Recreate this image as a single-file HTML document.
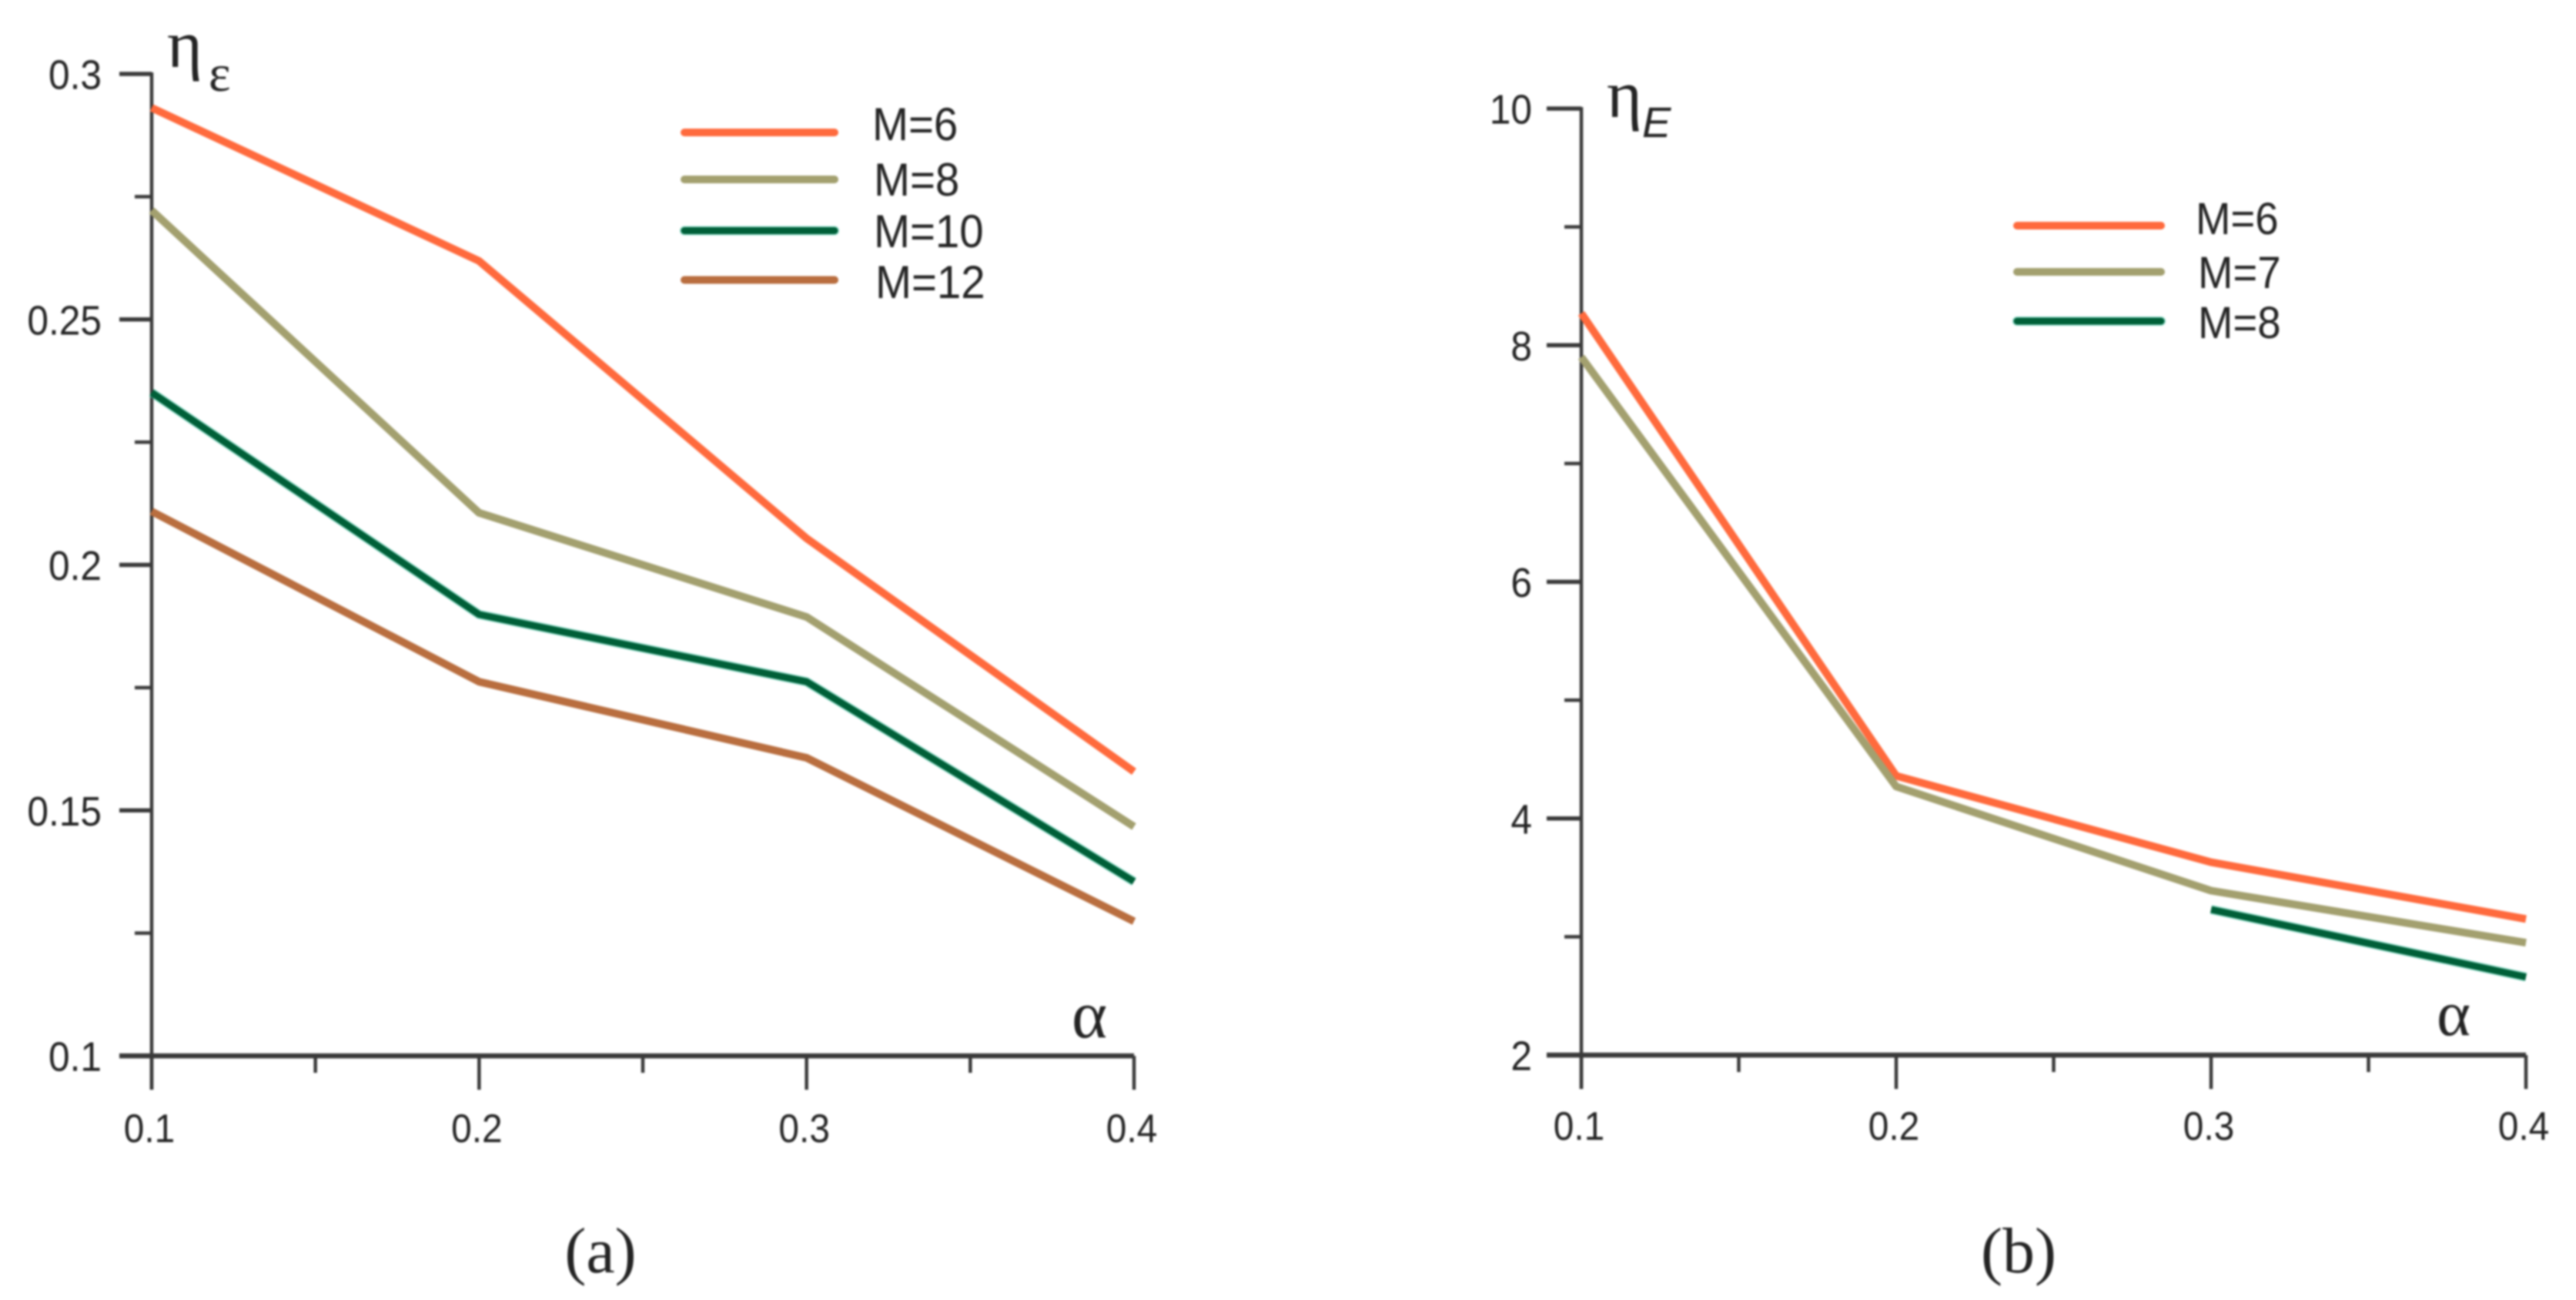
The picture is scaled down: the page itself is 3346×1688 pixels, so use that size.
<!DOCTYPE html>
<html lang="en">
<head>
<meta charset="utf-8">
<title>Efficiency charts</title>
<style>
html,body{margin:0;padding:0;background:#fff;width:3346px;height:1688px;overflow:hidden}
svg{display:block;filter:blur(1.2px)}
text{fill:#242424}
.sans{font-family:"Liberation Sans",sans-serif}
.serif{font-family:"Liberation Serif",serif}
</style>
</head>
<body>
<svg id="figure" xmlns="http://www.w3.org/2000/svg" width="3346" height="1688" viewBox="0 0 3346 1688">
  <rect width="3346" height="1688" fill="#fff"/>
  <g id="panel-a"></g>
  <g id="panel-b"></g>
  <text class="serif" x="217" y="87" font-size="88">η</text>
  <text class="serif" x="271" y="118" font-size="68">ε</text>
  <text class="serif" x="1392" y="1347" font-size="88">α</text>
  <text class="serif" x="780" y="1652" font-size="84" text-anchor="middle">(a)</text>
  <text class="serif" x="2087" y="152" font-size="88">η</text>
  <text class="sans" x="2133" y="178" font-size="56" font-style="italic">E</text>
  <text class="serif" x="3165" y="1344" font-size="84">α</text>
  <text class="serif" x="2622" y="1652" font-size="84" text-anchor="middle">(b)</text>
</svg>
<script>
const NS = 'http://www.w3.org/2000/svg';

const alphaCategories = [0.1, 0.2, 0.3, 0.4];
const alphaMinorTicks = [0.15, 0.25, 0.35];

const panelATicks = [0.1, 0.15, 0.2, 0.25, 0.3];
const panelATickLabels = ['0.1', '0.15', '0.2', '0.25', '0.3'];
const panelAMinorTicks = [0.125, 0.175, 0.225, 0.275];
const panelAM6 = [0.2931, 0.2619, 0.2054, 0.1579];
const panelAM8 = [0.2722, 0.2106, 0.1894, 0.1467];
const panelAM10 = [0.2351, 0.1899, 0.1762, 0.1355];
const panelAM12 = [0.2109, 0.1762, 0.1607, 0.1274];

const panelBTicks = [2, 4, 6, 8, 10];
const panelBTickLabels = ['2', '4', '6', '8', '10'];
const panelBMinorTicks = [3, 5, 7, 9];
const panelBM6 = [8.27, 4.36, 3.63, 3.15];
const panelBM7 = [7.90, 4.27, 3.39, 2.95];
const panelBM8 = [null, null, 3.23, 2.66];

const panelASeries = [
  {label: 'M=6', values: panelAM6, color: '#ff6a3d'},
  {label: 'M=8', values: panelAM8, color: '#a3a06f'},
  {label: 'M=10', values: panelAM10, color: '#005f38', halo: '#3cc4a4'},
  {label: 'M=12', values: panelAM12, color: '#b96e3f'}
];
const panelBSeries = [
  {label: 'M=6', values: panelBM6, color: '#ff6a3d'},
  {label: 'M=7', values: panelBM7, color: '#a3a06f'},
  {label: 'M=8', values: panelBM8, color: '#005f38', halo: '#3cc4a4'}
];

function line(parent, x1, y1, x2, y2, color, width) {
  const el = document.createElementNS(NS, 'line');
  el.setAttribute('x1', x1);
  el.setAttribute('y1', y1);
  el.setAttribute('x2', x2);
  el.setAttribute('y2', y2);
  el.setAttribute('stroke', color);
  el.setAttribute('stroke-width', width);
  parent.appendChild(el);
  return el;
}
function label(parent, x, y, str, size, anchor, squeeze) {
  const el = document.createElementNS(NS, 'text');
  el.setAttribute('transform', 'translate(' + x + ' ' + y + ') scale(' + squeeze + ' 1)');
  el.setAttribute('font-size', size);
  el.setAttribute('text-anchor', anchor);
  el.setAttribute('class', 'sans');
  el.textContent = str;
  parent.appendChild(el);
  return el;
}
function polyline(parent, points, color, width) {
  const p = document.createElementNS(NS, 'polyline');
  p.setAttribute('points', points);
  p.setAttribute('fill', 'none');
  p.setAttribute('stroke', color);
  p.setAttribute('stroke-width', width);
  p.setAttribute('stroke-linejoin', 'round');
  parent.appendChild(p);
  return p;
}

function drawPanel(cfg) {
  const g = document.getElementById(cfg.id);
  const sx = v => cfg.x0 + (v - 0.1) / 0.3 * (cfg.x1 - cfg.x0);
  const sy = v => cfg.yBottom - (v - cfg.yMin) / (cfg.yMax - cfg.yMin) * (cfg.yBottom - cfg.yTop);

  const yAxis = line(g, cfg.x0, cfg.yTop - 2, cfg.x0, cfg.yBottom + 44, '#3a3a3a', 4.5);
  
  

  const xAxis = line(g, cfg.tickLeft, cfg.yBottom, cfg.x1, cfg.yBottom, '#3a3a3a', 6.5);
  
  

  cfg.yTicks.forEach((v, i) => {
    const y = sy(v);
    const t = line(g, cfg.tickLeft, y, cfg.x0, y, '#3a3a3a', 5.5);
    
    
    const l = label(g, cfg.labelRight, y + 19.5, cfg.yLabels[i], 54, 'end', 0.92);
    
    
  });
  cfg.yMinor.forEach(v => {
    const y = sy(v);
    const t = line(g, cfg.minorLeft, y, cfg.x0, y, '#3a3a3a', 4.5);
    
    
  });
  alphaCategories.forEach(v => {
    const x = sx(v);
    const t = line(g, x, cfg.yBottom, x, cfg.yBottom + 44, '#3a3a3a', 4.5);
    
    
    const l = label(g, x - 3, cfg.xLabelBase, v.toFixed(1), 52, 'middle', 0.92);
    
    
  });
  alphaMinorTicks.forEach(v => {
    const x = sx(v);
    const t = line(g, x, cfg.yBottom, x, cfg.yBottom + 22, '#3a3a3a', 4.5);
    
    
  });

  cfg.series.forEach((s, i) => {
    const pts = [];
    s.values.forEach((v, j) => {
      if (v !== null) pts.push(sx(alphaCategories[j]).toFixed(1) + ',' + sy(v).toFixed(1));
    });
    if (s.halo) {
      const h = polyline(g, pts.join(' '), s.halo, 12);
      h.setAttribute('opacity', '0.55');
      
      
    }
    const p = polyline(g, pts.join(' '), s.color, s.halo ? 9 : 10);
    
    

    const ly = cfg.legendY[i];
    if (s.halo) {
      const sh = line(g, cfg.legendX0 + 5, ly, cfg.legendX1 - 5, ly, s.halo, 12);
      sh.setAttribute('stroke-linecap', 'round');
      sh.setAttribute('opacity', '0.55');
      
      
    }
    const swatch = line(g, cfg.legendX0 + 5, ly, cfg.legendX1 - 5, ly, s.color, s.halo ? 9 : 10);
    swatch.setAttribute('stroke-linecap', 'round');
    
    
    const lt = label(g, cfg.legendTextX[i], cfg.legendBase[i], s.label, cfg.legendFont, 'start', 0.94);
    
    
  });
}

drawPanel({
  id: 'panel-a', x0: 197, x1: 1473, yTop: 96, yBottom: 1371, yMin: 0.1, yMax: 0.3,
  tickLeft: 155, minorLeft: 175, labelRight: 132, xLabelBase: 1483,
  yTicks: panelATicks, yLabels: panelATickLabels, yMinor: panelAMinorTicks,
  series: panelASeries, legendX0: 884, legendX1: 1089, legendFont: 60,
  legendTextX: [1133, 1135, 1135, 1137],
  legendY: [172, 233, 299.5, 363.5], legendBase: [182, 254, 321, 387]
});
drawPanel({
  id: 'panel-b', x0: 2054, x1: 3281, yTop: 141, yBottom: 1370, yMin: 2, yMax: 10,
  tickLeft: 2009, minorLeft: 2032, labelRight: 1990, xLabelBase: 1480,
  yTicks: panelBTicks, yLabels: panelBTickLabels, yMinor: panelBMinorTicks,
  series: panelBSeries, legendX0: 2615, legendX1: 2812, legendFont: 58,
  legendTextX: [2852, 2855, 2855],
  legendY: [293, 353, 417], legendBase: [304, 374, 439]
});
</script>
</body>
</html>
